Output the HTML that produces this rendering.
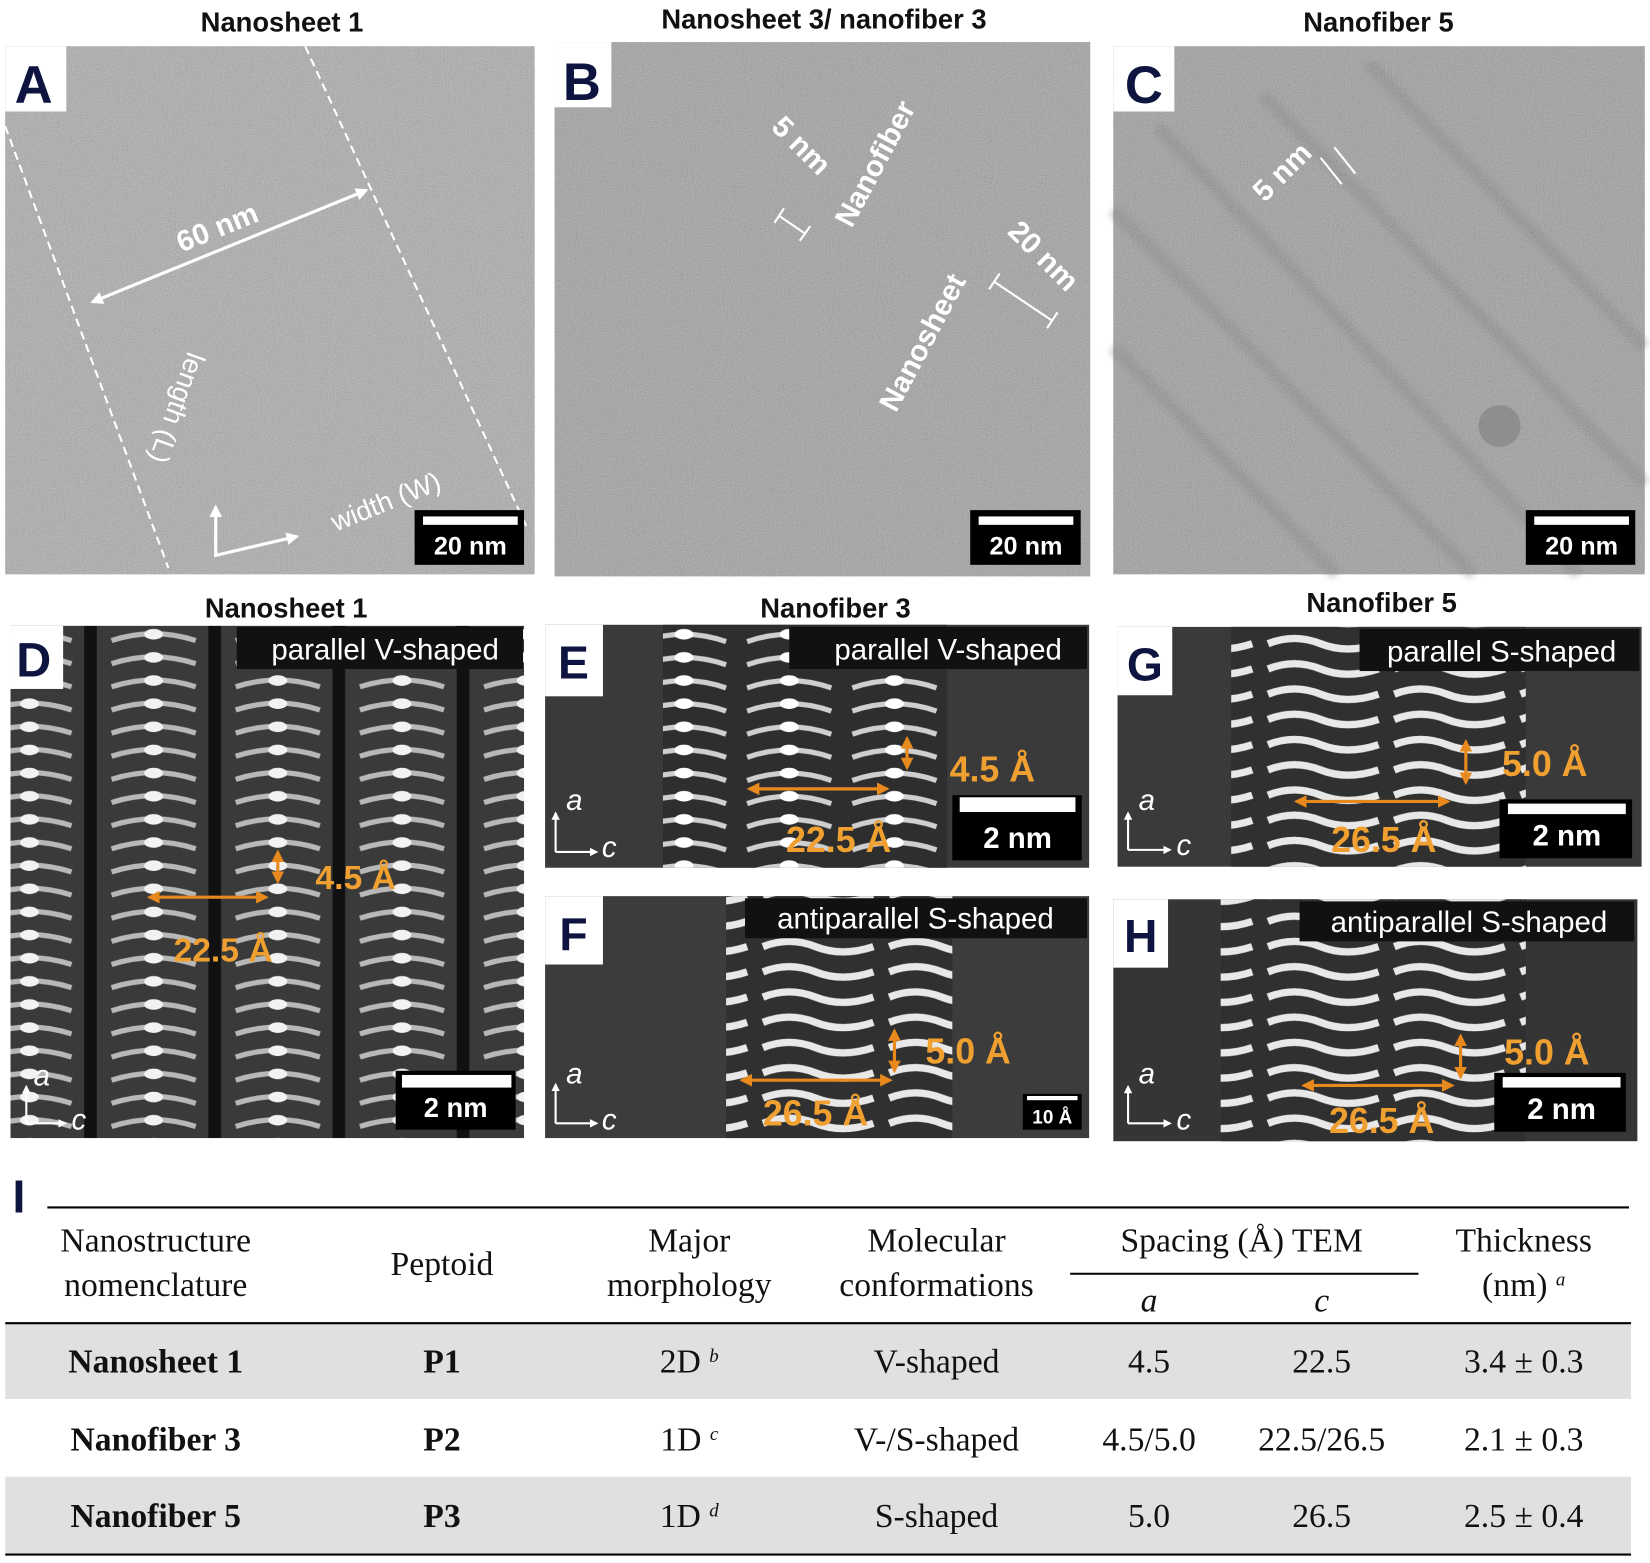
<!DOCTYPE html>
<html><head><meta charset="utf-8"><style>
html,body{margin:0;padding:0;background:#fff;}
svg{display:block}
text{font-family:"Liberation Sans",sans-serif}
.serif text{font-family:"Liberation Serif",serif}
</style></head><body>
<svg width="1650" height="1563" viewBox="0 0 1568 1486" preserveAspectRatio="none">
<defs>
<filter id="noise" x="0" y="0" width="100%" height="100%">
<feTurbulence type="fractalNoise" baseFrequency="0.9" numOctaves="2" seed="3"/>
<feColorMatrix type="saturate" values="0"/>
<feComponentTransfer><feFuncA type="linear" slope="0" intercept="0.35"/></feComponentTransfer>
</filter>
<filter id="blur2"><feGaussianBlur stdDeviation="3"/></filter>
<marker id="ao" viewBox="0 0 10 10" refX="8" refY="5" markerWidth="4" markerHeight="4" orient="auto-start-reverse"><path d="M0 0 L10 5 L0 10z" fill="#e8891e"/></marker>
<marker id="aw" viewBox="0 0 10 10" refX="8" refY="5" markerWidth="4" markerHeight="4" orient="auto-start-reverse"><path d="M0 0 L10 5 L0 10z" fill="#fff"/></marker>
<pattern id="pD" width="118" height="22" patternUnits="userSpaceOnUse" x="-32" y="0">
<rect width="118" height="22" fill="#3a3a3a"/>
<path d="M20 15 Q60 2 100 15" stroke="#b8b8b8" stroke-width="5" fill="none"/>
<ellipse cx="60" cy="9" rx="9" ry="5" fill="#f2f2f2"/>
<rect x="0" y="0" width="6" height="22" fill="#111"/>
<rect x="112" y="0" width="6" height="22" fill="#111"/>
</pattern>
<pattern id="pS" width="120" height="24" patternUnits="userSpaceOnUse">
<rect width="120" height="24" fill="#303030"/>
<path d="M5 12 Q30 2 55 12 T110 12" stroke="#e8e8e8" stroke-width="7" fill="none"/>
</pattern>
<pattern id="pV" width="100" height="22" patternUnits="userSpaceOnUse">
<rect width="100" height="22" fill="#2e2e2e"/>
<path d="M10 16 Q50 2 90 16" stroke="#cfcfcf" stroke-width="5" fill="none"/>
<ellipse cx="50" cy="9" rx="9" ry="5" fill="#fff"/>
</pattern>
</defs>

<g font-weight="bold" font-size="26" text-anchor="middle" fill="#111">
<text x="268" y="30">Nanosheet 1</text>
<text x="783" y="27">Nanosheet 3/ nanofiber 3</text>
<text x="1310" y="30">Nanofiber 5</text>
<text x="272" y="587">Nanosheet 1</text>
<text x="794" y="587">Nanofiber 3</text>
<text x="1313" y="582">Nanofiber 5</text>
</g>

<g>
<rect x="5" y="44" width="503" height="502" fill="#a9a9a9"/>
<rect x="5" y="44" width="503" height="502" filter="url(#noise)"/>
<path d="M5 120 L160 540 M290 44 L500 500" stroke="#fff" stroke-width="2" stroke-dasharray="8 5" fill="none"/>
<path d="M88 287 L348 181" stroke="#fff" stroke-width="3" marker-start="url(#aw)" marker-end="url(#aw)"/>
<text x="210" y="225" fill="#fff" font-size="28" font-weight="bold" transform="rotate(-22 210 225)" text-anchor="middle">60 nm</text>
<text x="160" y="385" fill="#fff" font-size="26" transform="rotate(110 160 385)" text-anchor="middle">length (L)</text>
<text x="370" y="485" fill="#fff" font-size="26" transform="rotate(-22 370 485)" text-anchor="middle">width (W)</text>
<path d="M205 482 L205 528 L282 510" stroke="#fff" stroke-width="3" fill="none" marker-start="url(#aw)" marker-end="url(#aw)"/>
<rect x="5" y="44" width="58" height="62" fill="#fff"/>
<text x="32" y="98" font-size="50" font-weight="bold" fill="#0d1440" text-anchor="middle">A</text>
<rect x="394" y="485" width="104" height="52" fill="#000"/>
<rect x="402" y="491" width="90" height="8" fill="#fff"/>
<text x="447" y="527" fill="#fff" font-size="24" font-weight="bold" text-anchor="middle">20 nm</text>
</g>

<g>
<rect x="527" y="40" width="509" height="508" fill="#9d9d9d"/>
<rect x="527" y="40" width="509" height="508" filter="url(#noise)"/>
<text x="755" y="145" fill="#fff" font-size="28" font-weight="bold" transform="rotate(45 755 145)" text-anchor="middle">5 nm</text>
<text x="840" y="160" fill="#fff" font-size="28" font-weight="bold" transform="rotate(-62 840 160)" text-anchor="middle">Nanofiber</text>
<text x="885" y="330" fill="#fff" font-size="28" font-weight="bold" transform="rotate(-62 885 330)" text-anchor="middle">Nanosheet</text>
<text x="985" y="250" fill="#fff" font-size="28" font-weight="bold" transform="rotate(45 985 250)" text-anchor="middle">20 nm</text>
<path d="M740 205 L765 222 M736 212 L745 198 M760 229 L770 215 M945 268 L1000 305 M940 275 L950 260 M995 312 L1005 297" stroke="#fff" stroke-width="2"/>
<rect x="527" y="40" width="54" height="62" fill="#fff"/>
<text x="553" y="95" font-size="50" font-weight="bold" fill="#0d1440" text-anchor="middle">B</text>
<rect x="922" y="485" width="105" height="52" fill="#000"/>
<rect x="930" y="491" width="90" height="8" fill="#fff"/>
<text x="975" y="527" fill="#fff" font-size="24" font-weight="bold" text-anchor="middle">20 nm</text>
</g>

<g>
<rect x="1058" y="44" width="505" height="502" fill="#9a9a9a"/>
<g stroke="#6a6a6a" stroke-width="12" opacity="0.35" filter="url(#blur2)">
<path d="M1058 200 L1400 546 M1100 120 L1500 546 M1200 90 L1563 460 M1300 60 L1563 330 M1058 330 L1270 546"/>
</g>
<rect x="1058" y="44" width="505" height="502" filter="url(#noise)"/>
<circle cx="1425" cy="405" r="20" fill="#777" opacity="0.5"/>
<text x="1225" y="170" fill="#fff" font-size="28" font-weight="bold" transform="rotate(-45 1225 170)" text-anchor="middle">5 nm</text>
<path d="M1255 150 L1275 175 M1268 140 L1288 165" stroke="#fff" stroke-width="2"/>
<rect x="1058" y="44" width="58" height="62" fill="#fff"/>
<text x="1087" y="98" font-size="50" font-weight="bold" fill="#0d1440" text-anchor="middle">C</text>
<rect x="1450" y="485" width="104" height="52" fill="#000"/>
<rect x="1458" y="491" width="90" height="8" fill="#fff"/>
<text x="1503" y="527" fill="#fff" font-size="24" font-weight="bold" text-anchor="middle">20 nm</text>
</g>

<g>
<rect x="10" y="595" width="488" height="487" fill="url(#pD)"/>
<rect x="10" y="595" width="50" height="60" fill="#fff"/>
<text x="32" y="643" font-size="46" font-weight="bold" fill="#0d1440" text-anchor="middle">D</text>
<rect x="225" y="596" width="272" height="40" fill="#111"/>
<text x="366" y="627" font-size="28" fill="#fff" text-anchor="middle">parallel V-shaped</text>
<g stroke="#e8891e" stroke-width="3" marker-start="url(#ao)" marker-end="url(#ao)">
<path d="M142 853 L253 853"/><path d="M264 810 L264 838"/></g>
<text x="338" y="845" font-size="32" font-weight="bold" fill="#f0a030" text-anchor="middle">4.5 Å</text>
<text x="212" y="914" font-size="32" font-weight="bold" fill="#f0a030" text-anchor="middle">22.5 Å</text>
<rect x="376" y="1018" width="114" height="56" fill="#000"/>
<rect x="382" y="1022" width="104" height="12" fill="#fff"/>
<text x="433" y="1062" font-size="26" font-weight="bold" fill="#fff" text-anchor="middle">2 nm</text>
<g stroke="#fff" stroke-width="2" marker-end="url(#aw)"><path d="M25 1068 L25 1033"/><path d="M25 1068 L62 1068"/></g>
<text x="32" y="1032" font-size="28" font-style="italic" fill="#fff">a</text>
<text x="68" y="1074" font-size="28" font-style="italic" fill="#fff">c</text>
</g>

<g>
<rect x="518" y="594" width="517" height="231" fill="#3a3a3a"/>
<rect x="630" y="594" width="270" height="231" fill="url(#pV)"/>
<rect x="518" y="594" width="55" height="68" fill="#fff"/>
<text x="545" y="645" font-size="44" font-weight="bold" fill="#0d1440" text-anchor="middle">E</text>
<rect x="750" y="596" width="283" height="40" fill="#111"/>
<text x="901" y="627" font-size="28" fill="#fff" text-anchor="middle">parallel V-shaped</text>
<g stroke="#e8891e" stroke-width="3" marker-start="url(#ao)" marker-end="url(#ao)">
<path d="M712 750 L843 750"/><path d="M862 702 L862 730"/></g>
<text x="943" y="743" font-size="34" font-weight="bold" fill="#f0a030" text-anchor="middle">4.5 Å</text>
<text x="797" y="810" font-size="34" font-weight="bold" fill="#f0a030" text-anchor="middle">22.5 Å</text>
<rect x="905" y="756" width="123" height="62" fill="#000"/>
<rect x="912" y="758" width="110" height="14" fill="#fff"/>
<text x="967" y="806" font-size="28" font-weight="bold" fill="#fff" text-anchor="middle">2 nm</text>
<g stroke="#fff" stroke-width="2" marker-end="url(#aw)"><path d="M528 810 L528 773"/><path d="M528 810 L567 810"/></g>
<text x="538" y="770" font-size="28" font-style="italic" fill="#fff">a</text>
<text x="572" y="815" font-size="28" font-style="italic" fill="#fff">c</text>
</g>

<g>
<rect x="518" y="852" width="517" height="230" fill="#3c3c3c"/>
<rect x="690" y="852" width="215" height="230" fill="url(#pS)"/>
<rect x="518" y="852" width="55" height="65" fill="#fff"/>
<text x="545" y="903" font-size="44" font-weight="bold" fill="#0d1440" text-anchor="middle">F</text>
<rect x="708" y="854" width="325" height="38" fill="#111"/>
<text x="870" y="883" font-size="28" fill="#fff" text-anchor="middle">antiparallel S-shaped</text>
<g stroke="#e8891e" stroke-width="3" marker-start="url(#ao)" marker-end="url(#ao)">
<path d="M705 1027 L846 1027"/><path d="M850 980 L850 1018"/></g>
<text x="920" y="1011" font-size="34" font-weight="bold" fill="#f0a030" text-anchor="middle">5.0 Å</text>
<text x="775" y="1070" font-size="34" font-weight="bold" fill="#f0a030" text-anchor="middle">26.5 Å</text>
<rect x="972" y="1040" width="56" height="34" fill="#000"/>
<rect x="976" y="1042" width="48" height="4" fill="#fff"/>
<text x="1000" y="1068" font-size="18" font-weight="bold" fill="#fff" text-anchor="middle">10 Å</text>
<g stroke="#fff" stroke-width="2" marker-end="url(#aw)"><path d="M528 1068 L528 1031"/><path d="M528 1068 L567 1068"/></g>
<text x="538" y="1030" font-size="28" font-style="italic" fill="#fff">a</text>
<text x="572" y="1074" font-size="28" font-style="italic" fill="#fff">c</text>
</g>

<g>
<rect x="1062" y="596" width="498" height="228" fill="#3a3a3a"/>
<rect x="1170" y="596" width="280" height="228" fill="url(#pS)"/>
<rect x="1062" y="596" width="52" height="65" fill="#fff"/>
<text x="1088" y="647" font-size="44" font-weight="bold" fill="#0d1440" text-anchor="middle">G</text>
<rect x="1292" y="598" width="266" height="40" fill="#111"/>
<text x="1427" y="629" font-size="28" fill="#fff" text-anchor="middle">parallel S-shaped</text>
<g stroke="#e8891e" stroke-width="3" marker-start="url(#ao)" marker-end="url(#ao)">
<path d="M1232 762 L1376 762"/><path d="M1393 705 L1393 744"/></g>
<text x="1468" y="738" font-size="34" font-weight="bold" fill="#f0a030" text-anchor="middle">5.0 Å</text>
<text x="1315" y="810" font-size="34" font-weight="bold" fill="#f0a030" text-anchor="middle">26.5 Å</text>
<rect x="1425" y="760" width="126" height="56" fill="#000"/>
<rect x="1433" y="764" width="112" height="10" fill="#fff"/>
<text x="1489" y="804" font-size="28" font-weight="bold" fill="#fff" text-anchor="middle">2 nm</text>
<g stroke="#fff" stroke-width="2" marker-end="url(#aw)"><path d="M1072 808 L1072 773"/><path d="M1072 808 L1112 808"/></g>
<text x="1082" y="770" font-size="28" font-style="italic" fill="#fff">a</text>
<text x="1118" y="813" font-size="28" font-style="italic" fill="#fff">c</text>
</g>

<g>
<rect x="1058" y="855" width="498" height="230" fill="#353535"/>
<rect x="1160" y="855" width="290" height="230" fill="url(#pS)"/>
<rect x="1058" y="855" width="52" height="65" fill="#fff"/>
<text x="1084" y="905" font-size="44" font-weight="bold" fill="#0d1440" text-anchor="middle">H</text>
<rect x="1235" y="857" width="318" height="38" fill="#111"/>
<text x="1396" y="886" font-size="28" fill="#fff" text-anchor="middle">antiparallel S-shaped</text>
<g stroke="#e8891e" stroke-width="3" marker-start="url(#ao)" marker-end="url(#ao)">
<path d="M1239 1032 L1380 1032"/><path d="M1388 985 L1388 1024"/></g>
<text x="1470" y="1012" font-size="34" font-weight="bold" fill="#f0a030" text-anchor="middle">5.0 Å</text>
<text x="1313" y="1077" font-size="34" font-weight="bold" fill="#f0a030" text-anchor="middle">26.5 Å</text>
<rect x="1420" y="1020" width="125" height="56" fill="#000"/>
<rect x="1428" y="1024" width="112" height="10" fill="#fff"/>
<text x="1484" y="1064" font-size="28" font-weight="bold" fill="#fff" text-anchor="middle">2 nm</text>
<g stroke="#fff" stroke-width="2" marker-end="url(#aw)"><path d="M1072 1068 L1072 1033"/><path d="M1072 1068 L1112 1068"/></g>
<text x="1082" y="1030" font-size="28" font-style="italic" fill="#fff">a</text>
<text x="1118" y="1074" font-size="28" font-style="italic" fill="#fff">c</text>
</g>

<g>
<text x="18" y="1153" font-size="44" font-weight="bold" fill="#0d1440" text-anchor="middle">I</text>
<rect x="5" y="1258" width="1545" height="72" fill="#e0e0e0"/>
<rect x="5" y="1404" width="1545" height="74" fill="#e0e0e0"/>
<path d="M45 1148 L1548 1148 M1017 1211 L1348 1211 M5 1258 L1550 1258 M5 1478 L1550 1478" stroke="#000" stroke-width="2"/>
<g class="serif" font-size="32" text-anchor="middle" fill="#111">
<text x="148" y="1190">Nanostructure</text><text x="148" y="1232">nomenclature</text>
<text x="420" y="1212">Peptoid</text>
<text x="655" y="1190">Major</text><text x="655" y="1232">morphology</text>
<text x="890" y="1190">Molecular</text><text x="890" y="1232">conformations</text>
<text x="1180" y="1190">Spacing (Å) TEM</text>
<text x="1092" y="1247" font-style="italic">a</text><text x="1256" y="1247" font-style="italic">c</text>
<text x="1448" y="1190">Thickness</text><text x="1448" y="1232">(nm) <tspan font-size="18" font-style="italic" dy="-10">a</tspan></text>
<text x="148" y="1305" font-weight="bold">Nanosheet 1</text><text x="420" y="1305" font-weight="bold">P1</text>
<text x="655" y="1305">2D <tspan font-size="18" font-style="italic" dy="-10">b</tspan></text>
<text x="890" y="1305">V-shaped</text><text x="1092" y="1305">4.5</text><text x="1256" y="1305">22.5</text><text x="1448" y="1305">3.4 ± 0.3</text>
<text x="148" y="1379" font-weight="bold">Nanofiber 3</text><text x="420" y="1379" font-weight="bold">P2</text>
<text x="655" y="1379">1D <tspan font-size="18" font-style="italic" dy="-10">c</tspan></text>
<text x="890" y="1379">V-/S-shaped</text><text x="1092" y="1379">4.5/5.0</text><text x="1256" y="1379">22.5/26.5</text><text x="1448" y="1379">2.1 ± 0.3</text>
<text x="148" y="1452" font-weight="bold">Nanofiber 5</text><text x="420" y="1452" font-weight="bold">P3</text>
<text x="655" y="1452">1D <tspan font-size="18" font-style="italic" dy="-10">d</tspan></text>
<text x="890" y="1452">S-shaped</text><text x="1092" y="1452">5.0</text><text x="1256" y="1452">26.5</text><text x="1448" y="1452">2.5 ± 0.4</text>
</g>
</g>
</svg>
</body></html>
